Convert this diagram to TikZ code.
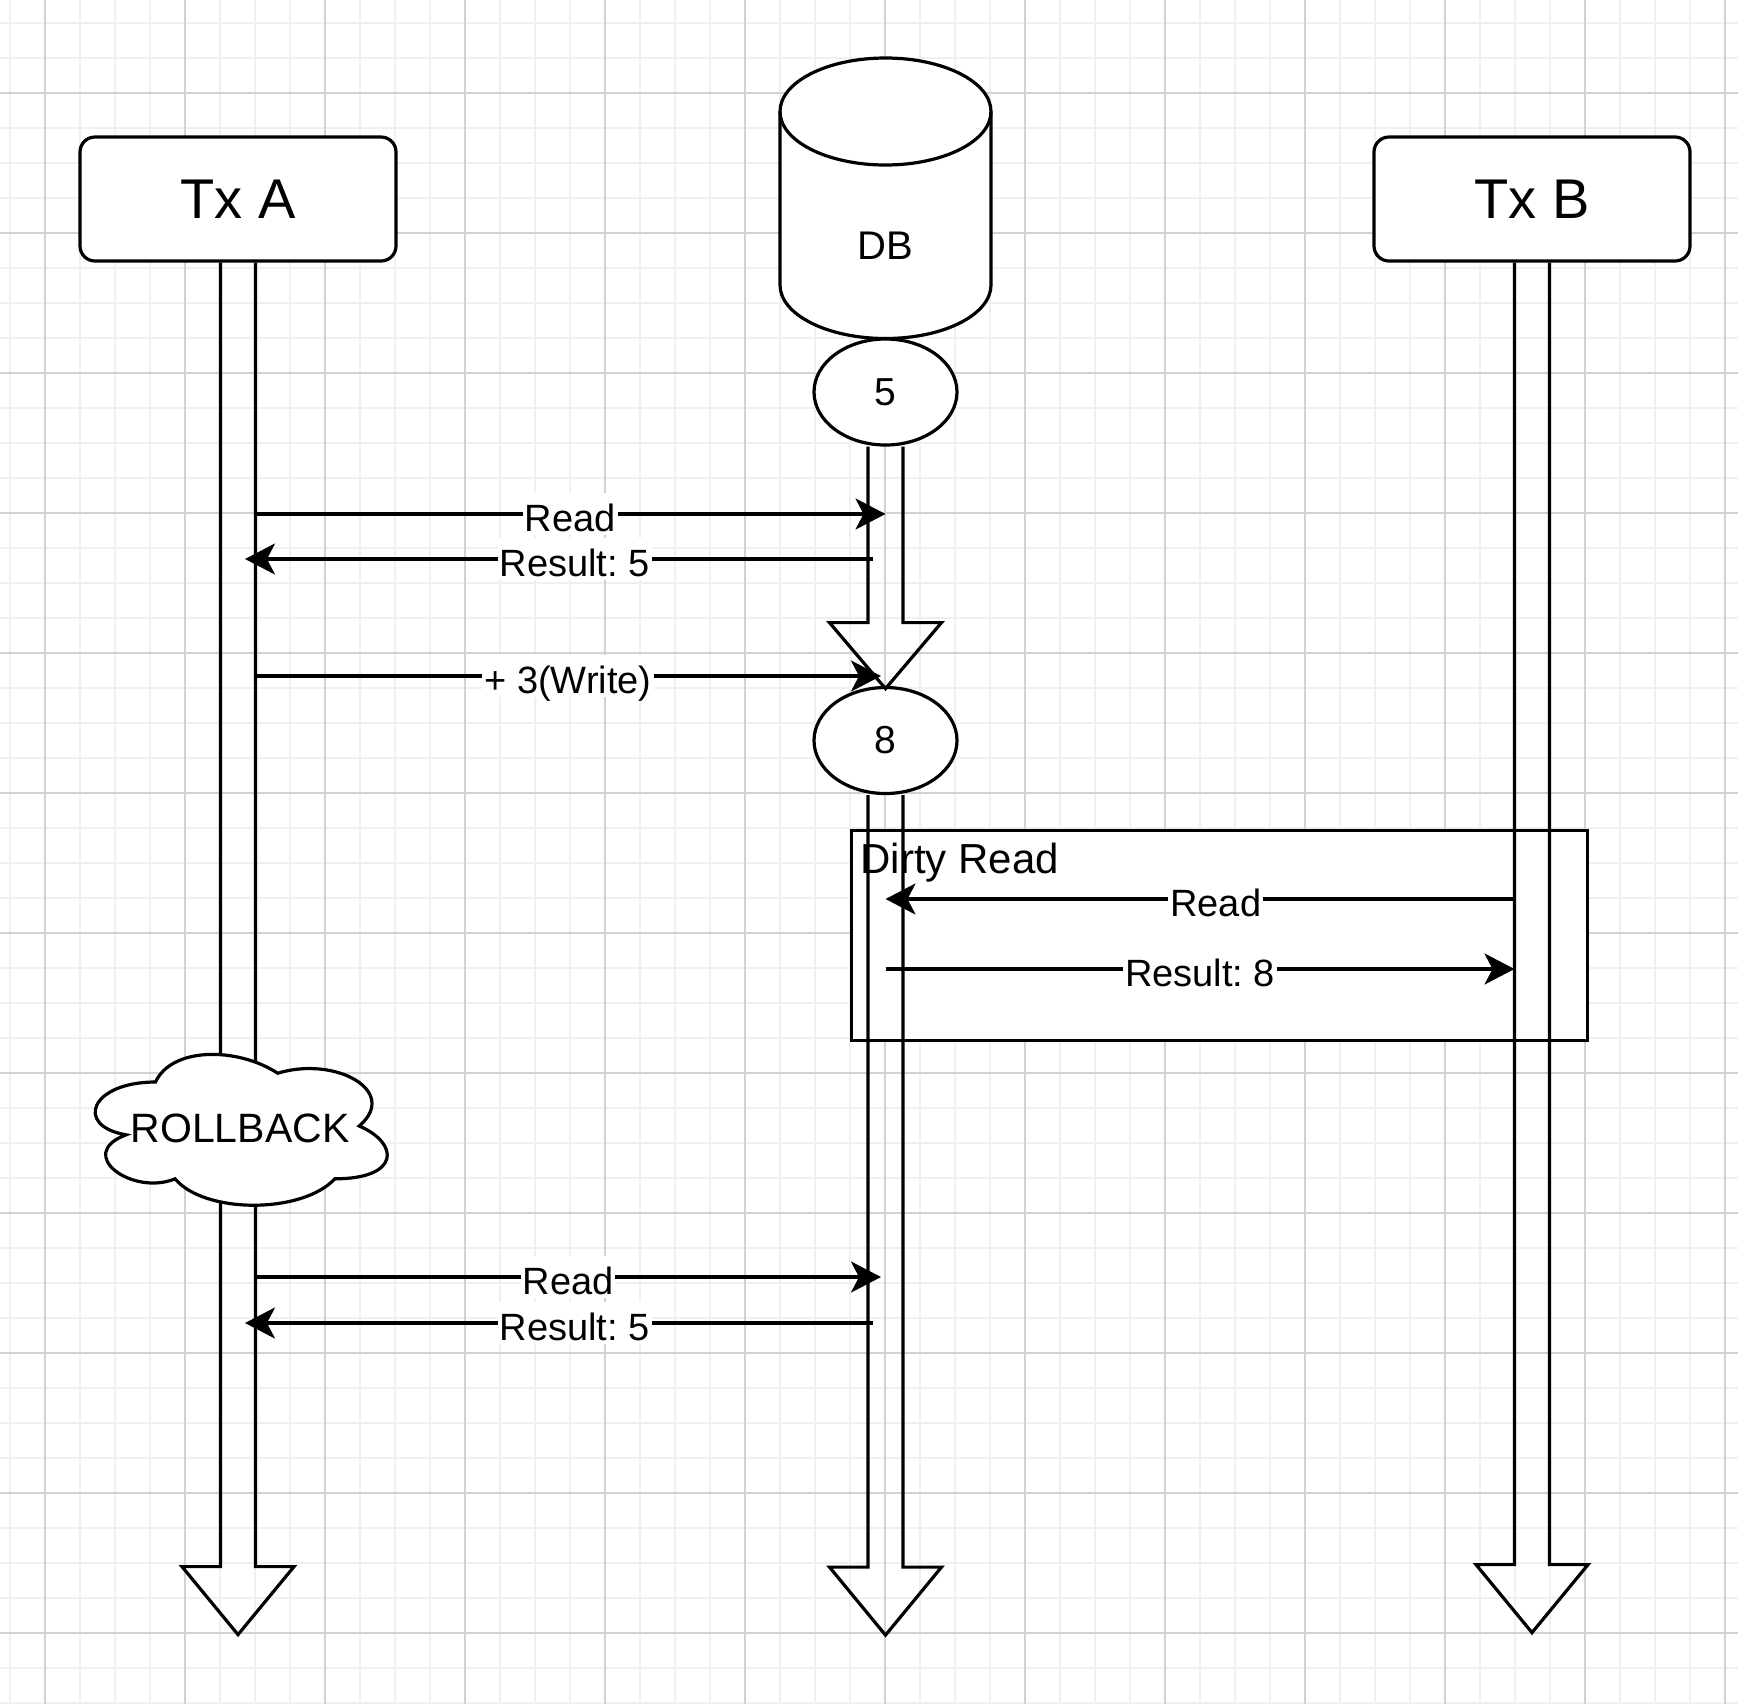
\documentclass[tikz,border=0pt]{standalone}
\usepackage{fontspec}
\setmainfont{Liberation Sans}
\frenchspacing
\usetikzlibrary{arrows.meta,shapes.geometric}

\definecolor{gridminor}{HTML}{F0F0F0}
\definecolor{gridmajor}{HTML}{D2D2D2}

\begin{document}
\begin{tikzpicture}[x=0.5pt, y=-0.5pt, line width=1.6pt,
  tx/.style={draw, fill=white, rounded corners=7.5pt, minimum width=158pt, minimum height=62pt, font=\fontsize{28}{32}\selectfont},
  val/.style={draw, fill=white, ellipse, inner sep=0pt, minimum width=71.5pt, minimum height=53pt, font=\fontsize{19.5}{22}\selectfont},
  life/.style={draw, line join=miter},
  msg/.style={draw, -{Stealth[length=15pt, width=15.5pt, inset=4pt]}},
  lbl/.style={fill=white, inner sep=1pt, text height=18pt, text depth=1pt, font=\fontsize{19}{22}\selectfont},
  back/.style={lbl, pos=0.475}]
\fill[white] (0,0) rectangle (1738,1704);
\useasboundingbox (0,0) rectangle (1738,1704);
% grid
\foreach \i in {0,...,49} \draw[gridminor, line width=1pt] (9.7+35*\i,0) -- (9.7+35*\i,1704);
\foreach \i in {0,...,48} \draw[gridminor, line width=1pt] (0,23.3+35*\i) -- (1738,23.3+35*\i);
\foreach \i in {0,...,12} \draw[gridmajor, line width=1pt] (44.7+140*\i,0) -- (44.7+140*\i,1704);
\foreach \i in {0,...,11} \draw[gridmajor, line width=1pt] (0,93.3+140*\i) -- (1738,93.3+140*\i);

\node[draw, fill=white, anchor=north west, inner sep=0pt, minimum width=367.75pt, minimum height=105pt] (dirty) at (850,829) {};
\node[anchor=base west, inner sep=0pt, font=\fontsize{21}{24}\selectfont] (dirtyTitle) at (859,873) {Dirty Read};

\node[tx] (TxA) at (238,199) {Tx A};
\node[tx] (TxB) at (1532,199) {Tx B};

\draw[fill=white] (780,111.5) -- (780,285) arc[start angle=180, end angle=360, x radius=52.75pt, y radius=26.75pt] -- (991,111.5) arc[start angle=0, end angle=180, x radius=52.75pt, y radius=26.75pt] -- cycle;
\draw (780,111.5) arc[start angle=180, end angle=360, x radius=52.75pt, y radius=26.75pt];
\node[font=\fontsize{20}{24}\selectfont] (DB) at (885.5,246) {DB};

\node[val] (v5) at (885.5,392) {5};
\node[val] (v8) at (885.5,740.5) {8};

\draw[life] (TxA.south) ++(-17.5,0) -- ++(0,1304) -- ++(-38.5,0) -- ++(56,68) -- ++(56,-68) -- ++(-38.5,0) -- ++(0,-1304);
\draw[life] (TxB.south) ++(-17.5,0) -- ++(0,1302) -- ++(-38.5,0) -- ++(56,68) -- ++(56,-68) -- ++(-38.5,0) -- ++(0,-1302);
\draw[life] (v5.south) ++(-17.5,0) -- ++(0,176) -- ++(-38.5,0) -- ++(56,66) -- ++(56,-66) -- ++(-38.5,0) -- ++(0,-176);
\draw[life] (v8.south) ++(-17.5,0) -- ++(0,772) -- ++(-38.5,0) -- ++(56,68) -- ++(56,-68) -- ++(-38.5,0) -- ++(0,-772);

\coordinate (aR) at (255,0);
\coordinate (aT) at (245,0);
\coordinate (dT) at (881,0);
\coordinate (dS) at (873,0);
\coordinate (bL) at (1514.5,0);

\draw[msg] (aR |- 0,514) -- node[lbl]{Read} (DB |- 0,514);
\draw[msg] (dS |- 0,559) -- node[back]{Result: 5} (aT |- 0,559);
\draw[msg] (aR |- 0,676) -- node[lbl]{+ 3(Write)} (dT |- 0,676);
\draw[msg] (bL |- 0,899) -- node[back]{Read} (DB |- 0,899);
\draw[msg] (DB |- 0,969) -- node[lbl]{Result: 8} (bL |- 0,969);
\draw[msg] (aR |- 0,1277) -- node[lbl]{Read} (dT |- 0,1277);
\draw[msg] (dS |- 0,1323) -- node[back]{Result: 5} (aT |- 0,1323);

\begin{scope}[shift={(74,1038)}, x=163pt, y=-88pt]
\draw[fill=white] (0.25,0.25) .. controls (0.05,0.25) and (0,0.5) .. (0.16,0.55)
  .. controls (0,0.66) and (0.18,0.9) .. (0.31,0.8)
  .. controls (0.4,1) and (0.7,1) .. (0.8,0.8)
  .. controls (1,0.8) and (1,0.6) .. (0.875,0.5)
  .. controls (1,0.3) and (0.8,0.1) .. (0.625,0.2)
  .. controls (0.5,0.05) and (0.3,0.05) .. (0.25,0.25) -- cycle;
\end{scope}
\node[font=\fontsize{20.5}{24}\selectfont] (rollback) at (240,1128) {ROLLBACK};
\end{tikzpicture}
\end{document}
